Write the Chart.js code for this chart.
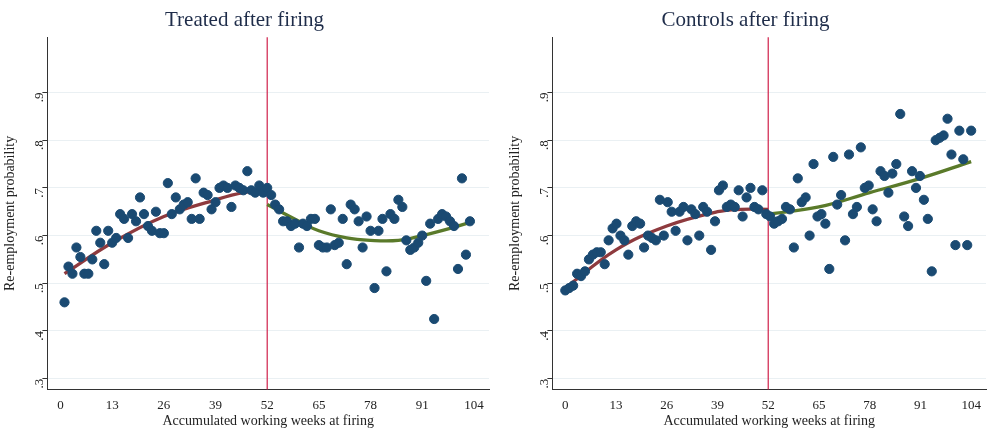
<!DOCTYPE html>
<html><head><meta charset="utf-8">
<script src="https://cdn.jsdelivr.net/npm/chart.js@4/dist/chart.umd.min.js"></script>
<style>
body{margin:0;background:#fff}
.wrap{display:flex;width:995px;height:432px}
.box{width:497px;height:432px;position:relative}
</style></head><body>
<div class="wrap"><div class="box"><canvas id="c1"></canvas></div><div class="box"><canvas id="c2"></canvas></div></div>
<script>
const xTicks = [0, 13, 26, 39, 52, 65, 78, 91, 104];
const treated = [.46,.535,.52,.575,.555,.52,.52,.55,.61,.585,.54,.61,.585,.595,.645,.635,.595,.645,.63,.68,.645,.62,.61,.65,.605,.605,.71,.645,.68,.655,.665,.67,.635,.72,.635,.69,.685,.655,.67,.70,.705,.70,.66,.705,.70,.695,.735,.695,.69,.705,.69,.70,.685,.665,.655,.63,.63,.62,.625,.575,.625,.62,.635,.635,.58,.575,.575,.655,.58,.585,.635,.54,.665,.655,.63,.575,.64,.61,.49,.61,.635,.525,.645,.635,.675,.66,.59,.57,.575,.585,.60,.505,.625,.425,.635,.645,.64,.63,.62,.53,.72,.56,.63];
const controls = [.485,.49,.495,.52,.515,.525,.55,.56,.565,.565,.54,.59,.615,.625,.60,.59,.56,.62,.63,.625,.575,.60,.595,.59,.675,.60,.67,.65,.61,.65,.66,.59,.655,.645,.60,.66,.65,.57,.63,.695,.705,.66,.665,.66,.695,.64,.68,.70,.66,.655,.695,.645,.64,.625,.63,.635,.66,.655,.575,.72,.67,.68,.60,.75,.64,.645,.625,.53,.765,.665,.685,.59,.77,.645,.66,.785,.70,.705,.655,.63,.735,.725,.69,.73,.75,.855,.64,.62,.735,.70,.725,.675,.635,.525,.80,.805,.81,.845,.77,.58,.82,.76,.58,.82];
const fitWeeks1 = [1, 13, 26, 39, 46, 52];
const fitPre1 = [.52, .585, .64, .675, .69, .695];
const fitWeeks2 = [52, 60, 65, 72, 78, 85, 91, 98, 104];
const fitPost1 = [.665, .63, .61, .595, .59, .59, .60, .615, .63];
const fitWeeksC1 = [0, 13, 26, 39, 45, 52];
const fitPreC = [.49, .57, .62, .65, .655, .655];
const fitWeeksC2 = [52, 65, 78, 91, 104];
const fitPostC = [.645, .66, .69, .72, .755];

const serif = "'Liberation Serif', 'DejaVu Serif', serif";
function pts(xs, ys) { return ys.map((y, i) => ({ x: xs[i], y })); }

function makeChart(id, title, dots, dotWeeks, w1, f1, w2, f2, padLeft) {
  new Chart(document.getElementById(id), {
    type: "scatter",
    data: {
      datasets: [
        { data: pts(dotWeeks, dots), backgroundColor: "#1a4a72", borderColor: "#1a4a72", pointRadius: 4.6, pointHoverRadius: 4.6 },
        { type: "line", data: pts(w1, f1), borderColor: "#8e3a3e", borderWidth: 3.3, pointRadius: 0, tension: 0.4, fill: false },
        { type: "line", data: pts(w2, f2), borderColor: "#5a7a2a", borderWidth: 3.3, pointRadius: 0, tension: 0.4, fill: false },
        { type: "line", data: [{ x: 52, y: 0.2 }, { x: 52, y: 1.1 }], borderColor: "#d0204a", borderWidth: 1.2, pointRadius: 0 },
      ],
    },
    options: {
      responsive: true, maintainAspectRatio: false, animation: false,
      layout: { padding: { left: padLeft, right: 8, top: 2, bottom: 2 } },
      plugins: {
        legend: { display: false }, tooltip: { enabled: false },
        title: { display: true, text: title, color: "#1f2d4a", font: { family: serif, size: 21, weight: "normal" }, padding: { top: 6, bottom: 4 } },
      },
      scales: {
        x: {
          type: "linear", min: -3.3, max: 107.8,
          afterBuildTicks: (ax) => { ax.ticks = xTicks.map(v => ({ value: v })); },
          grid: { display: false },
          border: { color: "#333" },
          ticks: { color: "#222", font: { family: serif, size: 13 }, padding: 0 },
          title: { display: true, text: "Accumulated working weeks at firing", color: "#222", font: { family: serif, size: 14 }, padding: 0 },
        },
        y: {
          min: 0.277, max: 1.016,
          afterBuildTicks: (ax) => { ax.ticks = [.3, .4, .5, .6, .7, .8, .9].map(v => ({ value: v })); },
          grid: { color: "#eaf0f3", drawTicks: true, tickColor: "#333", tickLength: 5 },
          border: { color: "#333" },
          ticks: { color: "#222", font: { family: serif, size: 13 }, minRotation: 90, maxRotation: 90, callback: v => "." + Math.round(v * 10) },
          title: { display: true, text: "Re-employment probability", color: "#222", font: { family: serif, size: 14 }, padding: 2 },
        },
      },
    },
  });
}
makeChart("c1", "Treated after firing", treated, treated.map((_, i) => i + 1), fitWeeks1, fitPre1, fitWeeks2, fitPost1, 0);
makeChart("c2", "Controls after firing", controls, controls.map((_, i) => i * 104 / 103), fitWeeksC1, fitPreC, fitWeeksC2, fitPostC, 8);
</script></body></html>
